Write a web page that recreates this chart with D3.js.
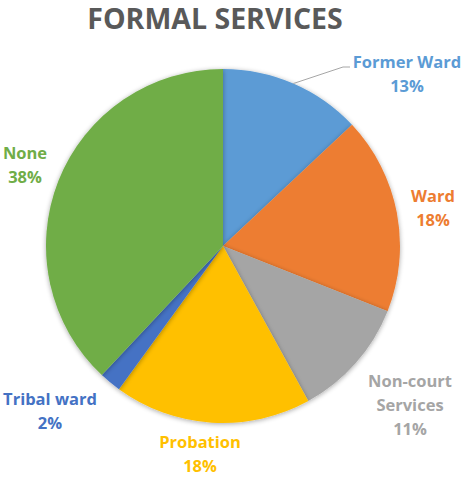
<!DOCTYPE html>
<html><head><meta charset="utf-8">
<script src="https://cdn.jsdelivr.net/npm/d3@7"></script>
<style>body{margin:0;background:#fff}svg{display:block}</style>
</head><body>
<svg id="c" width="464" height="481"></svg>
<script>
const categories = ["Former Ward","Ward","Non-court Services","Probation","Tribal ward","None"];
const values = [13,18,11,18,2,38];
const colors = ["#5B9BD5","#ED7D31","#A5A5A5","#FFC000","#4472C4","#70AD47"];
const labelLines = [["Former Ward","13%"],["Ward","18%"],["Non-court","Services","11%"],["Probation","18%"],["Tribal ward","2%"],["None","38%"]];
const labelPos = [[407,62],[433,196],[410,381],[200,442],[50,399],[25,153]];

const svg = d3.select("#c");
const cx = 223, cy = 246, r = 177;
const defs = svg.append("defs");
const f = defs.append("filter").attr("id","sh").attr("x","-10%").attr("y","-10%").attr("width","120%").attr("height","120%");
f.append("feGaussianBlur").attr("in","SourceAlpha").attr("stdDeviation",2.5).attr("result","b");
f.append("feOffset").attr("in","b").attr("dx",0).attr("dy",1).attr("result","o");
f.append("feComponentTransfer").attr("in","o").attr("result","o2").append("feFuncA").attr("type","linear").attr("slope",0.35);
const m = f.append("feMerge"); m.append("feMergeNode").attr("in","o2"); m.append("feMergeNode").attr("in","SourceGraphic");

svg.append("text").attr("x",215).attr("y",29).attr("text-anchor","middle")
  .attr("font-family","Open Sans, sans-serif").attr("font-weight","bold").attr("font-size",28.5)
  .attr("fill","#595959").text("FORMAL SERVICES");

const pie = d3.pie().sort(null).value(d=>d);
const arcs = pie(values);
const arc = d3.arc().innerRadius(0).outerRadius(r);
const g = svg.append("g").attr("transform",`translate(${cx},${cy})`);
g.selectAll("path").data(arcs).join("path").attr("d",arc)
  .attr("fill",(d,i)=>colors[i]).attr("filter","url(#sh)");

// leader line for Former Ward
const a0 = (arcs[0].startAngle+arcs[0].endAngle)/2;
const px = cx + Math.sin(a0)*r, py = cy - Math.cos(a0)*r;
svg.append("polyline").attr("points",`${px},${py} ${343},${67} ${350},${67}`)
  .attr("fill","none").attr("stroke","#A6A6A6").attr("stroke-width",1);

categories.forEach((c,i)=>{
  const t = svg.append("text").attr("text-anchor","middle")
    .attr("font-family","Open Sans, sans-serif").attr("font-weight","bold").attr("font-size",16.5)
    .attr("fill",colors[i]);
  labelLines[i].forEach((ln,j)=>{
    t.append("tspan").attr("x",labelPos[i][0]).attr("y",labelPos[i][1]+6+j*24).text(ln);
  });
});
</script>
</body></html>
